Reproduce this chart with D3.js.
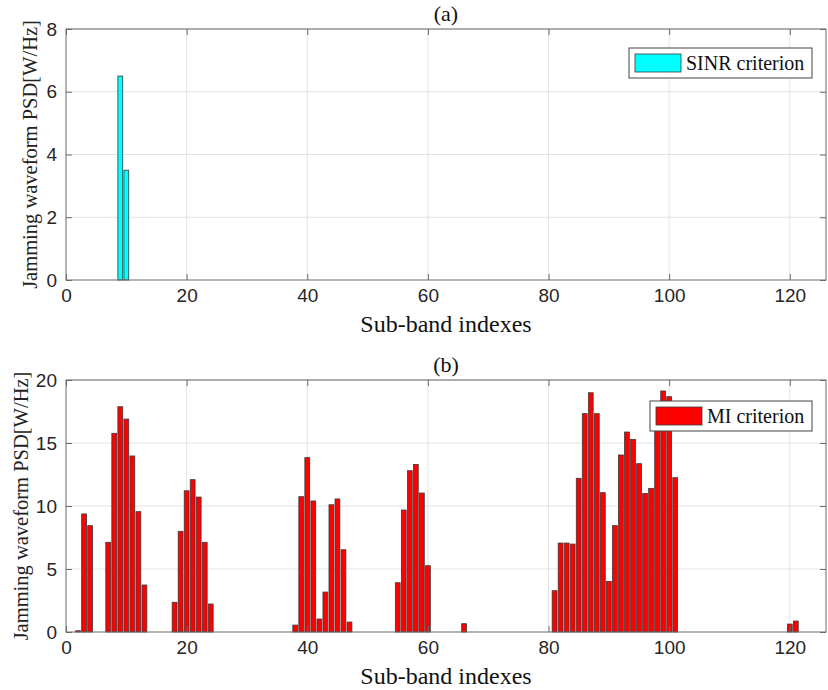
<!DOCTYPE html>
<html>
<head>
<meta charset="utf-8">
<script src="https://cdn.jsdelivr.net/npm/d3@7"></script>
<style>
  html, body { margin: 0; padding: 0; background: #fff; }
  svg { display: block; }
</style>
</head>
<body>
<svg id="chart" width="828" height="690"></svg>
<script>
// Sub-band PSD allocations (only non-zero sub-bands are listed)
const sinrIndex = [9, 10];
const sinrPSD   = [6.5, 3.5];

const miIndex = [2, 3, 4, 7, 8, 9, 10, 11, 12, 13,
                 18, 19, 20, 21, 22, 23, 24,
                 38, 39, 40, 41, 42, 43, 44, 45, 46, 47,
                 55, 56, 57, 58, 59, 60, 66,
                 81, 82, 83, 84, 85, 86, 87, 88, 89, 90,
                 91, 92, 93, 94, 95, 96, 97, 98, 99, 100, 101,
                 120, 121];
const miPSD = [0.1, 9.37, 8.44, 7.12, 15.77, 17.88, 16.9, 13.97, 9.55, 3.73,
               2.36, 7.99, 11.21, 12.09, 10.71, 7.12, 2.22,
               0.55, 10.74, 13.84, 10.4, 1.03, 3.17, 10.1, 10.56, 6.53, 0.79,
               3.91, 9.68, 12.8, 13.3, 11.03, 5.26, 0.66,
               3.28, 7.06, 7.06, 6.98, 12.2, 17.33, 18.99, 17.33, 11.06, 4.02,
               8.44, 14.05, 15.87, 15.29, 13.36, 11.0, 11.4, 16.8, 19.13, 18.68, 12.25,
               0.63, 0.87];

const xTicks = [0, 20, 40, 60, 80, 100, 120];
const yTicksA = [0, 2, 4, 6, 8];
const yTicksB = [0, 5, 10, 15, 20];

const svg = d3.select("#chart");
const left = 66, right = 826;
const x = d3.scaleLinear().domain([0, 126]).range([left, right]);

const panels = [
  { title: "(a)", top: 29, bottom: 280, ymax: 8, ticks: yTicksA, labelX: 37,
    idx: sinrIndex, val: sinrPSD, fill: "#00ffff", legend: "SINR criterion",
    lg: { x: 629, y: 48, w: 183, h: 30 } },
  { title: "(b)", top: 380, bottom: 632, ymax: 20, ticks: yTicksB, labelX: 28,
    idx: miIndex, val: miPSD, fill: "#ff0000", legend: "MI criterion",
    lg: { x: 650, y: 401, w: 162, h: 30 } }
];

const tickFont = "'Liberation Sans', Arial, sans-serif";
const serif = "'Liberation Serif', 'Times New Roman', serif";
const axisColor = "#6b6b6b";

panels.forEach(p => {
  const y = d3.scaleLinear().domain([0, p.ymax]).range([p.bottom, p.top]);
  const g = svg.append("g");

  // grid
  g.append("g").selectAll("line.gx").data(xTicks.slice(1)).join("line")
    .attr("x1", d => x(d)).attr("x2", d => x(d))
    .attr("y1", p.top).attr("y2", p.bottom)
    .attr("stroke", "#e3e3e3").attr("stroke-width", 1);
  g.append("g").selectAll("line.gy").data(p.ticks.slice(1)).join("line")
    .attr("x1", left).attr("x2", right)
    .attr("y1", d => y(d)).attr("y2", d => y(d))
    .attr("stroke", "#e3e3e3").attr("stroke-width", 1);

  // bars
  const data = p.idx.map((d, i) => ({ i: d, v: p.val[i] }));
  g.append("g").selectAll("rect").data(data).join("rect")
    .attr("x", d => x(d.i - 0.4))
    .attr("width", d => x(d.i + 0.4) - x(d.i - 0.4))
    .attr("y", d => y(d.v))
    .attr("height", d => y(0) - y(d.v))
    .attr("fill", p.fill)
    .attr("stroke", "#3a3a3a").attr("stroke-width", 0.8);

  // axes with inward ticks
  const bottomAxis = d3.axisBottom(x).tickValues(xTicks).tickSize(-6).tickPadding(9);
  const gb = g.append("g").attr("transform", `translate(0,${p.bottom})`).call(bottomAxis);
  const topAxis = d3.axisTop(x).tickValues(xTicks).tickSize(-6).tickFormat("");
  const gt = g.append("g").attr("transform", `translate(0,${p.top})`).call(topAxis);
  const leftAxis = d3.axisLeft(y).tickValues(p.ticks).tickSize(-6).tickPadding(9);
  const gl = g.append("g").attr("transform", `translate(${left},0)`).call(leftAxis);
  const rightAxis = d3.axisRight(y).tickValues(p.ticks).tickSize(-6).tickFormat("");
  const gr = g.append("g").attr("transform", `translate(${right},0)`).call(rightAxis);

  [gb, gt, gl, gr].forEach(a => {
    a.select(".domain").remove();
    a.selectAll(".tick line").attr("stroke", axisColor);
    a.selectAll(".tick text").attr("font-family", tickFont)
      .attr("font-size", 19).attr("fill", "#262626");
  });
  gb.selectAll(".tick text").attr("dy", "0.71em");

  // box
  g.append("rect").attr("x", left).attr("y", p.top)
    .attr("width", right - left).attr("height", p.bottom - p.top)
    .attr("fill", "none").attr("stroke", axisColor).attr("stroke-width", 1);

  // title
  g.append("text").attr("x", (left + right) / 2).attr("y", p.top - 8)
    .attr("text-anchor", "middle").attr("font-family", serif)
    .attr("font-size", 22).attr("fill", "#111").text(p.title);

  // x label
  g.append("text").attr("x", (left + right) / 2).attr("y", p.bottom + 52)
    .attr("text-anchor", "middle").attr("font-family", serif)
    .attr("font-size", 24).attr("fill", "#111").text("Sub-band indexes");

  // y label
  g.append("text")
    .attr("transform", `translate(${p.labelX},${(p.top + p.bottom) / 2}) rotate(-90)`)
    .attr("text-anchor", "middle").attr("font-family", serif)
    .attr("font-size", 20.5).attr("fill", "#222").text("Jamming waveform PSD[W/Hz]");

  // legend
  const lg = g.append("g");
  lg.append("rect").attr("x", p.lg.x).attr("y", p.lg.y)
    .attr("width", p.lg.w).attr("height", p.lg.h)
    .attr("fill", "#fff").attr("stroke", "#444").attr("stroke-width", 1);
  lg.append("rect").attr("x", p.lg.x + 6).attr("y", p.lg.y + 6)
    .attr("width", 46).attr("height", p.lg.h - 12)
    .attr("fill", p.fill).attr("stroke", "#3a3a3a").attr("stroke-width", 0.8);
  lg.append("text").attr("x", p.lg.x + 57).attr("y", p.lg.y + p.lg.h / 2)
    .attr("dy", "0.35em").attr("font-family", serif)
    .attr("font-size", 20).attr("fill", "#111").text(p.legend);
});
</script>
</body>
</html>
